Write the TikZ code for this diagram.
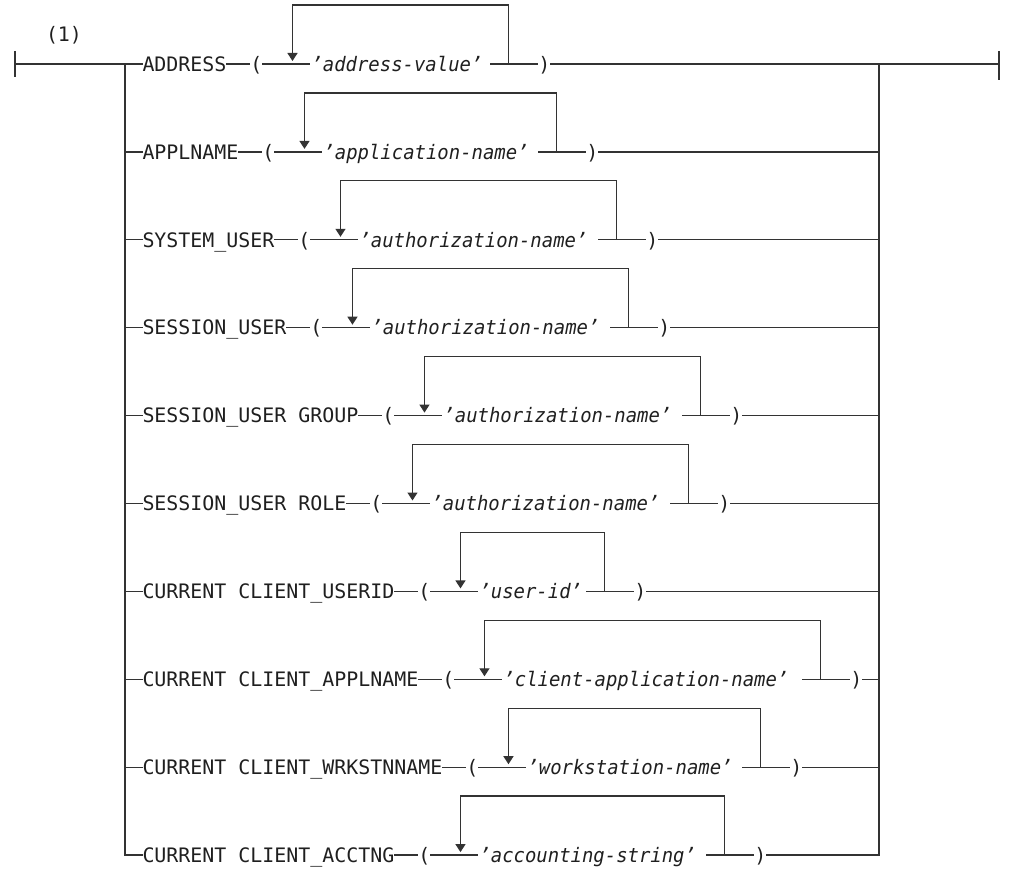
\documentclass[tikz,border=0pt]{standalone}
\usepackage{fontspec}
\setmonofont{DejaVu Sans Mono}
\newfontfamily\valfont[FakeStretch=0.95,ItalicFont={DejaVu Sans Mono Oblique}]{DejaVu Sans Mono}
\newlength\valw
\usetikzlibrary{arrows.meta,positioning,calc}
\begin{document}
\begin{tikzpicture}[x=1pt,y=-1pt,
  every node/.style={inner sep=0pt,outer sep=0pt,
    font=\fontsize{19.93}{24}\selectfont\ttfamily,
    text height=14.5pt,text depth=0pt,text=black!88},
  rail/.style={line width=1.3pt,draw=black!80},
  val/.style={font=\fontsize{19.93}{24}\selectfont\ttfamily\itshape},
  loopline/.style={rail,-{Triangle[width=10pt,length=8pt]}}
]
\useasboundingbox (0,0) rectangle (1009,869);
\node[anchor=base] (note) at (64,42) {(1)};
\foreach \i/\lab/\val in {
  1/ADDRESS/address-value,
  2/APPLNAME/application-name,
  3/SYSTEM\_USER/authorization-name,
  4/SESSION\_USER/authorization-name,
  5/SESSION\_USER GROUP/authorization-name,
  6/SESSION\_USER ROLE/authorization-name,
  7/CURRENT CLIENT\_USERID/user-id,
  8/CURRENT CLIENT\_APPLNAME/client-application-name,
  9/CURRENT CLIENT\_WRKSTNNAME/workstation-name,
  10/CURRENT CLIENT\_ACCTNG/accounting-string}{
  \pgfmathsetmacro\yy{64+87.9*(\i-1)}
  \coordinate (J\i) at (125,\yy);
  \coordinate (E\i) at (879,\yy);
  \node[anchor=west] (L\i) at (142.5,\yy) {\lab};
  \node[right=24pt of L\i] (P\i) {(};
  \node[val,right=48pt of P\i] (V\i)
    {\settowidth{\valw}{’\val’}\makebox[\valw][l]{\valfont\itshape\hspace{1pt}’\val’}};
  \node[right=48pt of V\i] (Q\i) {)};
  \coordinate (A\i) at ($(V\i.west)+(-18,-3)$);
  \coordinate (R\i) at ($(V\i.east)+(18,0)$);
  \draw[rail] (J\i) -- (L\i.west);
  \draw[rail] (L\i.east) -- (P\i.west);
  \draw[rail] (P\i.east) -- (V\i.west);
  \draw[rail] (V\i.east) -- (Q\i.west);
  \draw[rail] (Q\i.east) -- (E\i);
  \draw[loopline] (R\i) -- ++(0,-59) -| (A\i);
}
\coordinate (S) at (15,64);
\coordinate (Sa) at (15,51);
\coordinate (Sb) at (15,77);
\coordinate (T) at (999,64);
\coordinate (Ta) at (999,51);
\coordinate (Tb) at (999,80);
\draw[rail] (Sa) -- (Sb);
\draw[rail] (S) -- (J1);
\draw[rail] (E1) -- (T);
\draw[rail] (Ta) -- (Tb);
\draw[rail] (J1) -- (J10) -- (L10.west);
\draw[rail] (Q10.east) -- (E10) -- (E1);
\end{tikzpicture}
\end{document}
